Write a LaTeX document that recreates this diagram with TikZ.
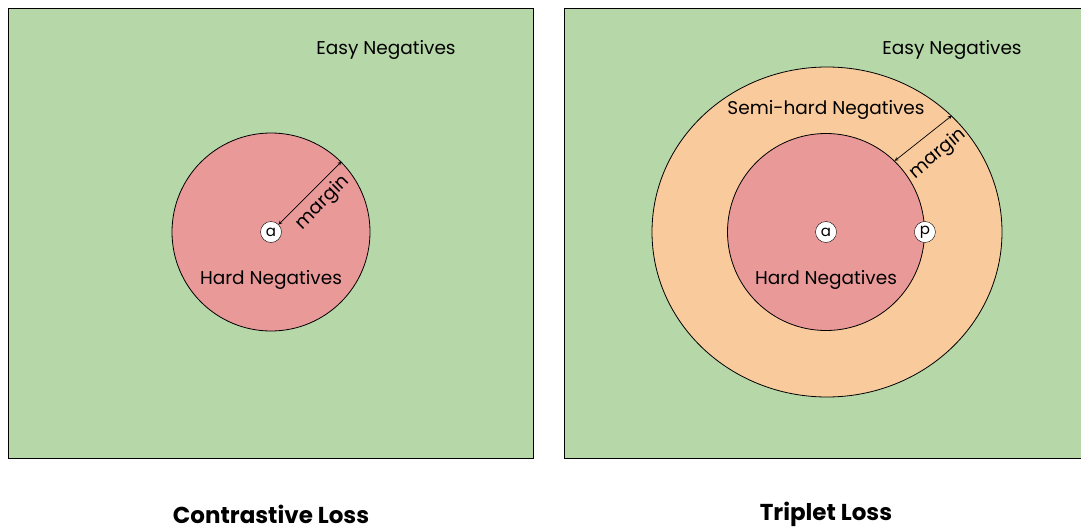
\documentclass[tikz,border=0pt]{standalone}
\usepackage{fontspec}
\setmainfont{Poppins}
\usetikzlibrary{shapes.geometric}
\definecolor{easygreen}{HTML}{B6D7A8}
\definecolor{hardred}{HTML}{EA9999}
\definecolor{semiorange}{HTML}{F9CB9C}

\begin{document}
\begin{tikzpicture}
[x=1pt,y=-1pt,
panel/.style={draw,fill=easygreen,line width=1pt},
zone/.style={draw,line width=0.8pt,inner sep=0pt},
point/.style={circle,draw,fill=white,inner sep=0pt,minimum size=21pt,
font=\fontsize{15}{15}\selectfont},
region label/.style={font=\fontsize{18.5}{20}\selectfont},
title/.style={font=\bfseries\fontsize{23}{26}\selectfont},
margin arrow/.style={<->,>=stealth,line width=0.7pt}
]
\useasboundingbox (0,0) rectangle (1081,530);
% contrastive loss panel
\begin{scope}
\draw [panel] (8,8) rectangle (533,458);
\node [zone,circle,fill=hardred,minimum size=198pt] (lc) at (271,232) {};
\node [point] (a1) at (271,232) {a};
\node [region label] (le) at (386,50) {Easy Negatives};
\node [region label] (lh) at (271,280) {Hard Negatives};
\draw [margin arrow] (a1.45) -- (lc.45);
\node [region label,rotate=45] (lm) at (323,203) {margin};
\node [title] (lt) at (271,514) {Contrastive Loss};
\end{scope}
% triplet loss panel
\begin{scope}
\draw [panel] (564,8) rectangle (1095,458);
\node [zone,ellipse,fill=semiorange,minimum width=350pt,
minimum height=330pt] (oc) at (827,232) {};
\node [zone,circle,fill=hardred,minimum size=197pt] (ic) at (826,232) {};
\node [point] (a2) at (826,232) {a};
\node [point] (p2) at (ic.east) {p};
\node [region label] (re) at (952,50) {Easy Negatives};
\node [region label] (rs) at (826,110) {Semi-hard Negatives};
\node [region label] (rh) at (826,280) {Hard Negatives};
\draw [margin arrow] (ic.46) -- (oc.43);
\node [region label,rotate=40] (rm) at (938,154) {margin};
\node [title] (rt) at (826,514) {Triplet Loss};
\end{scope}
\end{tikzpicture}
\end{document}
